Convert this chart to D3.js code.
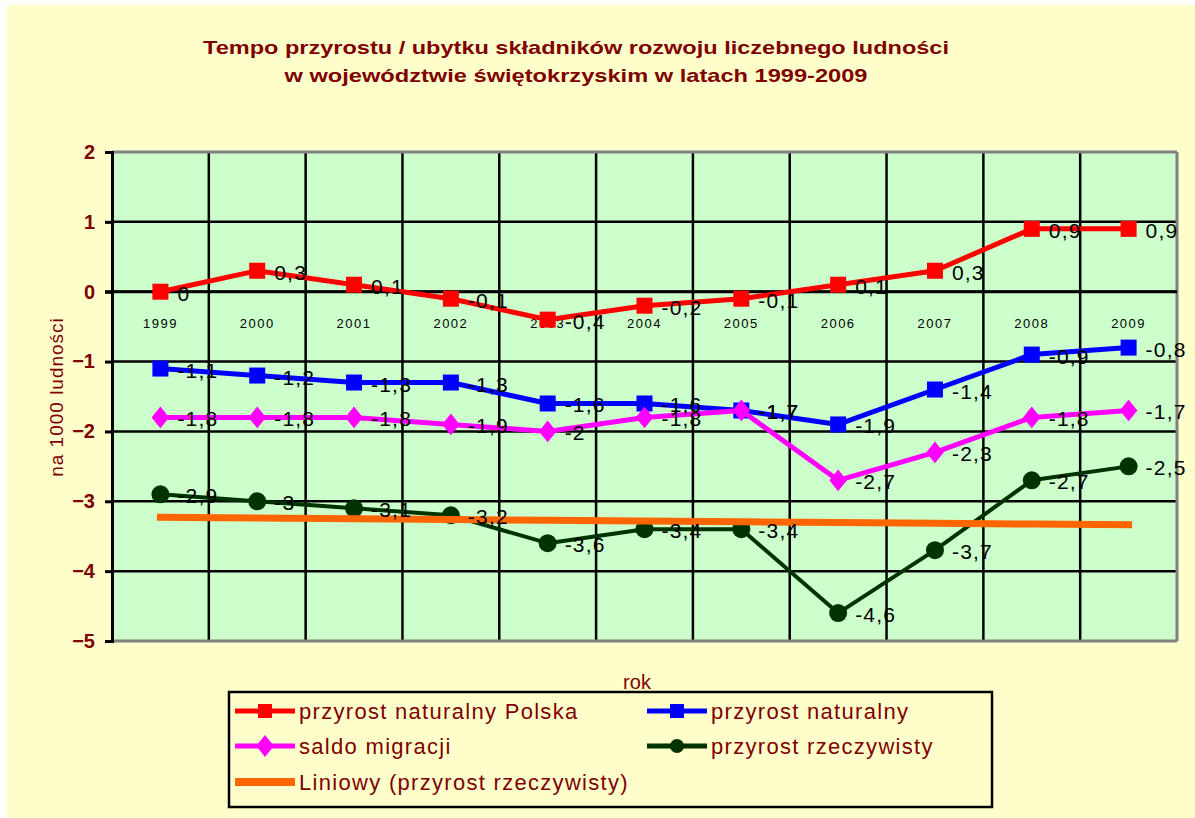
<!DOCTYPE html>
<html>
<head>
<meta charset="utf-8">
<script src="https://cdn.jsdelivr.net/npm/d3@7"></script>
<style>
  html, body { margin: 0; padding: 0; background: #ffffff; }
  svg { display: block; }
  text { font-family: "Liberation Sans", Arial, sans-serif; }
</style>
</head>
<body>
<svg id="chart" width="1195" height="818"></svg>
<script>
// ---- data ----
const years = ["1999","2000","2001","2002","2003","2004","2005","2006","2007","2008","2009"];
const polska = [0, 0.3, 0.1, -0.1, -0.4, -0.2, -0.1, 0.1, 0.3, 0.9, 0.9];
const naturalny = [-1.1, -1.2, -1.3, -1.3, -1.6, -1.6, -1.7, -1.9, -1.4, -0.9, -0.8];
const saldo = [-1.8, -1.8, -1.8, -1.9, -2, -1.8, -1.7, -2.7, -2.3, -1.8, -1.7];
const rzeczywisty = [-2.9, -3, -3.1, -3.2, -3.6, -3.4, -3.4, -4.6, -3.7, -2.7, -2.5];
const yTicks = [2, 1, 0, -1, -2, -3, -4, -5];
const titleLines = ["Tempo przyrostu / ubytku składników rozwoju liczebnego ludności",
                    "w województwie świętokrzyskim w latach 1999-2009"];
const seriesNames = ["przyrost naturalny Polska", "przyrost naturalny", "saldo migracji",
                     "przyrost rzeczywisty", "Liniowy (przyrost rzeczywisty)"];

const series = [
  {name: seriesNames[0], values: polska, color: "#FF0000", marker: "square", lw: 5},
  {name: seriesNames[1], values: naturalny, color: "#0000FF", marker: "square", lw: 5},
  {name: seriesNames[2], values: saldo, color: "#FF00FF", marker: "diamond", lw: 5},
  {name: seriesNames[3], values: rzeczywisty, color: "#003300", marker: "circle", lw: 4}
];

// linear trend (Excel "Liniowy") of przyrost rzeczywisty
const n = rzeczywisty.length;
const mx = d3.mean(d3.range(n)), my = d3.mean(rzeczywisty);
const slope = d3.sum(d3.range(n), i => (i - mx) * (rzeczywisty[i] - my)) / d3.sum(d3.range(n), i => (i - mx) ** 2);
const trend = d3.range(n).map(i => my + slope * (i - mx));

const svg = d3.select("#chart");
const darkRed = "#800000";

// backgrounds
svg.append("rect").attr("x", 7).attr("y", 5).attr("width", 1188).attr("height", 813).attr("fill", "#FFFFCC");

const L = 112, R = 1177, T = 152, B = 641;
svg.append("rect").attr("x", L).attr("y", T).attr("width", R - L).attr("height", B - T).attr("fill", "#CCFFCC");

const x = d3.scaleBand().domain(years).range([L, R]).padding(0);
const y = d3.scaleLinear().domain([-5, 2]).range([B, T]);
const cx = d => x(d) + x.bandwidth() / 2;

// gridlines
const grid = svg.append("g");
grid.selectAll("line.h").data(yTicks.filter(v => v > -5 && v < 2)).join("line")
  .attr("x1", L).attr("x2", R).attr("y1", d => y(d)).attr("y2", d => y(d))
  .attr("stroke", "#000").attr("stroke-width", 2.5);
grid.selectAll("line.v").data(years.slice(1)).join("line")
  .attr("x1", d => x(d)).attr("x2", d => x(d)).attr("y1", T).attr("y2", B)
  .attr("stroke", "#000").attr("stroke-width", 2.5);
// borders
svg.append("line").attr("x1", L).attr("x2", R).attr("y1", T).attr("y2", T).attr("stroke", "#808080").attr("stroke-width", 3);
svg.append("line").attr("x1", L).attr("x2", R).attr("y1", B).attr("y2", B).attr("stroke", "#808080").attr("stroke-width", 3);
svg.append("line").attr("x1", R).attr("x2", R).attr("y1", T).attr("y2", B).attr("stroke", "#808080").attr("stroke-width", 3);

// y axis
const yAxis = d3.axisLeft(y).tickValues(yTicks).tickSize(7).tickPadding(10).tickFormat(d3.format("d"));
const gy = svg.append("g").attr("transform", `translate(${L},0)`).call(yAxis);
gy.select(".domain").attr("stroke", "#000").attr("stroke-width", 3);
gy.selectAll(".tick line").attr("stroke", "#000").attr("stroke-width", 3);
gy.selectAll(".tick text").attr("fill", darkRed).attr("font-size", 20).attr("font-weight", "bold")
  .attr("font-family", "'Liberation Sans', Arial, sans-serif");

// x axis at zero
const xAxis = d3.axisBottom(x).tickSize(0).tickPadding(27);
const gx = svg.append("g").attr("transform", `translate(0,${y(0)})`).call(xAxis);
gx.select(".domain").remove();
gx.selectAll(".tick text").attr("fill", "#000").attr("font-size", 13).attr("letter-spacing", 1.5)
  .attr("font-family", "'Liberation Sans', Arial, sans-serif");
svg.append("line").attr("x1", L - 7).attr("x2", R).attr("y1", y(0)).attr("y2", y(0)).attr("stroke", "#000").attr("stroke-width", 3);

// series lines
const line = d3.line().x((d, i) => cx(years[i])).y(d => y(d));
function drawMarker(g, type, color, px, py, s) {
  if (type === "square") {
    g.append("rect").attr("x", px - s / 2).attr("y", py - s / 2).attr("width", s).attr("height", s).attr("fill", color);
  } else if (type === "diamond") {
    const w = s * 0.55, h = s * 0.68;
    g.append("path").attr("d", `M${px},${py - h}L${px + w},${py}L${px},${py + h}L${px - w},${py}Z`).attr("fill", color);
  } else if (type === "circle") {
    g.append("circle").attr("cx", px).attr("cy", py).attr("r", s / 2).attr("fill", color);
  }
}
const gs = svg.append("g");
series.forEach(s => {
  gs.append("path").datum(s.values).attr("d", line).attr("fill", "none")
    .attr("stroke", s.color).attr("stroke-width", s.lw).attr("stroke-linejoin", "round");
  s.values.forEach((v, i) => {
    const size = s.marker === "square" ? 16 : (s.marker === "diamond" ? 16 : 18);
    drawMarker(gs, s.marker, s.color, cx(years[i]), y(v), size);
  });
});

// trend line
svg.append("path").datum(trend).attr("d", line).attr("fill", "none")
  .attr("stroke", "#FF6600").attr("stroke-width", 7).attr("stroke-linecap", "square");

// data labels
const fmt = v => String(v).replace(".", ",");
const gl = svg.append("g");
series.forEach(s => {
  gl.selectAll(null).data(s.values).join("text")
    .attr("x", (d, i) => cx(years[i]) + 17)
    .attr("y", d => y(d) + 9)
    .attr("font-size", 21).attr("letter-spacing", 1.2).attr("fill", "#000")
    .text(d => fmt(d));
});

// title
titleLines.forEach((t, i) => {
  svg.append("text").attr("x", 576).attr("y", 54 + i * 28).attr("text-anchor", "middle")
    .attr("font-size", 19).attr("font-weight", "bold").attr("fill", darkRed)
    .attr("textLength", i === 0 ? 746 : 583).attr("lengthAdjust", "spacingAndGlyphs")
    .text(t);
});

// axis titles
svg.append("text").attr("transform", `translate(63,397) rotate(-90)`).attr("text-anchor", "middle")
  .attr("font-size", 19).attr("letter-spacing", 1).attr("fill", darkRed).text("na 1000 ludności");
svg.append("text").attr("x", 637).attr("y", 689).attr("text-anchor", "middle")
  .attr("font-size", 20).attr("fill", darkRed).text("rok");

// legend
const lg = svg.append("g");
lg.append("rect").attr("x", 229).attr("y", 692).attr("width", 763).attr("height", 115)
  .attr("fill", "none").attr("stroke", "#000").attr("stroke-width", 2.5);
const legendItems = [
  {s: series[0], col: 0, row: 0},
  {s: series[1], col: 1, row: 0},
  {s: series[2], col: 0, row: 1},
  {s: series[3], col: 1, row: 1},
  {s: {name: seriesNames[4], color: "#FF6600", marker: null, lw: 7}, col: 0, row: 2}
];
const colX = [235, 647], rowY = [711, 746, 782];
legendItems.forEach(it => {
  const x0 = colX[it.col], yy = rowY[it.row];
  lg.append("line").attr("x1", x0).attr("x2", x0 + 60).attr("y1", yy).attr("y2", yy)
    .attr("stroke", it.s.color).attr("stroke-width", it.s.marker ? 5 : 8);
  if (it.s.marker) drawMarker(lg, it.s.marker, it.s.color, x0 + 30, yy, it.s.marker === "diamond" ? 16 : 14);
  lg.append("text").attr("x", x0 + 64).attr("y", yy + 8).attr("font-size", 22).attr("letter-spacing", 1.3)
    .attr("fill", darkRed).text(it.s.name);
});
</script>
</body>
</html>
